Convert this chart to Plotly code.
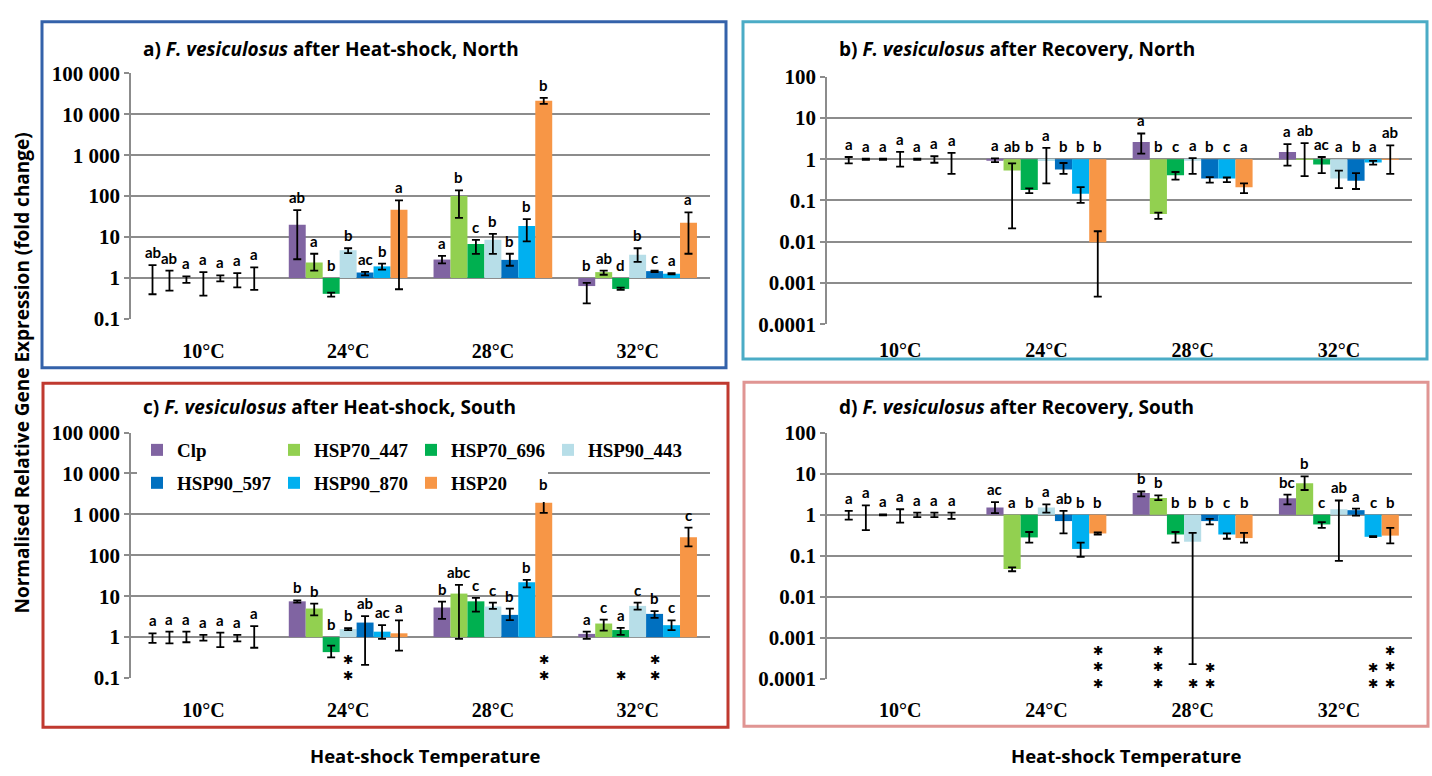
import numpy as np
import plotly.graph_objects as go

W, H = 1432, 776

temps = ["10°C", "24°C", "28°C", "32°C"]
genes = ["Clp", "HSP70_447", "HSP70_696", "HSP90_443", "HSP90_597", "HSP90_870", "HSP20"]
gene_colors = ["#8064A2", "#92D050", "#00B050", "#B7DEE8", "#0070C0", "#00B0F0", "#F79646"]

# ---------- a) Heat-shock, North (rows = genes, cols = temps) ----------
a_mean = [[1, 20.1, 2.82, 0.635], [1, 2.39, 100, 1.39], [1, 0.41, 6.75, 0.54], [1, 4.78, 8.55, 3.7],
          [1, 1.36, 2.77, 1.47], [1, 1.92, 18.7, 1.27], [1, 46.4, 21300, 22.4]]
a_hi = [[2.07, 45.6, 3.45, 0.76], [1.52, 3.91, 138, 1.52], [1.1, 0.44, 8.55, 0.58], [1.39, 5.33, 11.9, 5.33],
        [1.16, 1.41, 3.91, 1.52], [1.31, 2.23, 27.4, 1.31], [1.82, 78.7, 25100, 40.1]]
a_lo = [[0.40, 2.87, 2.27, 0.24], [0.49, 1.52, 29.5, 1.2], [0.76, 0.35, 3.9, 0.51], [0.37, 4.06, 3.9, 2.48],
        [0.83, 1.16, 1.99, 1.39], [0.59, 1.6, 7.8, 1.22], [0.51, 0.53, 18000, 3.91]]
a_letters = [["ab", "ab", "a", "b"], ["ab", "a", "b", "ab"], ["a", "b", "c", "d"], ["a", "b", "b", "b"],
             ["a", "ac", "b", "c"], ["a", "b", "b", "a"], ["a", "a", "b", "a"]]

# ---------- b) Recovery, North ----------
b_mean = [[1, 0.95, 2.6, 1.49], [1, 0.53, 0.047, 1.03], [1, 0.18, 0.41, 0.74], [1, 0.9, 0.95, 0.34],
          [1, 0.56, 0.34, 0.30], [1, 0.146, 0.34, 0.835], [1, 0.0098, 0.21, 1.02]]
b_hi = [[1.13, 1.05, 4.2, 2.33], [1.03, 0.79, 0.051, 2.46], [1.03, 0.197, 0.49, 1.13], [1.51, 1.88, 1.06, 0.53],
        [1.03, 0.81, 0.37, 0.46], [1.18, 0.21, 0.36, 0.91], [1.43, 0.018, 0.26, 2.17]]
b_lo = [[0.79, 0.85, 1.36, 0.70], [0.97, 0.021, 0.036, 0.39], [0.97, 0.15, 0.32, 0.46], [0.66, 0.26, 0.44, 0.2],
        [0.97, 0.44, 0.27, 0.19], [0.82, 0.088, 0.28, 0.74], [0.44, 0.00047, 0.15, 0.44]]
b_letters = [["a", "a", "a", "a"], ["a", "ab", "b", "ab"], ["a", "b", "c", "ac"], ["a", "a", "a", "a"],
             ["a", "b", "b", "b"], ["a", "b", "c", "a"], ["a", "b", "a", "ab"]]

# ---------- c) Heat-shock, South ----------
c_mean = [[1, 7.5, 5.3, 1.2], [1, 5.0, 11.6, 2.15], [1, 0.43, 7.5, 1.49], [1, 1.57, 5.6, 5.8],
          [1, 2.27, 3.5, 3.7], [1, 1.36, 22, 1.96], [1, 1.24, 1920, 275]]
c_hi = [[1.24, 7.9, 7.4, 1.36], [1.36, 6.6, 18.9, 2.67], [1.36, 0.62, 9.1, 1.69], [1.14, 1.66, 7.0, 7.0],
        [1.29, 3.25, 5.0, 4.3], [1.14, 1.96, 25, 2.57], [1.85, 2.57, 2700, 475]]
c_lo = [[0.72, 7.0, 2.8, 0.91], [0.70, 3.4, 0.91, 1.44], [0.75, 0.32, 4.2, 1.14], [0.82, 1.49, 4.9, 4.7],
        [0.57, 0.21, 2.6, 2.97], [0.79, 0.91, 16.4, 1.49], [0.55, 0.47, 1090, 165]]
c_letters = [["a", "b", "b", "a"], ["a", "b", "abc", "c"], ["a", "b", "c", "a"], ["a", "b", "c", "c"],
             ["a", "ab", "b", "b"], ["a", "ac", "b", "c"], ["a", "a", "b", "c"]]
c_stars = [[0, 0, 0, 0], [0, 0, 0, 0], [0, 0, 0, 1], [0, 2, 0, 0],
           [0, 0, 0, 2], [0, 0, 0, 0], [0, 0, 2, 0]]

# ---------- d) Recovery, South ----------
d_mean = [[1, 1.49, 3.36, 2.52], [1, 0.048, 2.56, 5.8], [1, 0.28, 0.33, 0.58], [1, 1.49, 0.22, 1.36],
          [1, 0.70, 0.70, 1.29], [1, 0.147, 0.33, 0.29], [1, 0.35, 0.27, 0.31]]
d_hi = [[1.24, 2.03, 3.68, 3.07], [1.69, 0.052, 2.96, 8.6], [1.02, 0.38, 0.38, 0.66], [1.36, 1.78, 0.36, 2.22],
        [1.13, 1.24, 0.79, 1.41], [1.13, 0.21, 0.35, 0.30], [1.13, 0.37, 0.36, 0.48]]
d_lo = [[0.76, 1.09, 2.8, 1.78], [0.42, 0.042, 2.26, 4.0], [0.97, 0.21, 0.21, 0.48], [0.64, 1.13, 0.00023, 0.075],
        [0.87, 0.35, 0.58, 0.95], [0.87, 0.094, 0.26, 0.285], [0.79, 0.33, 0.21, 0.20]]
d_letters = [["a", "ac", "b", "bc"], ["a", "a", "b", "b"], ["a", "b", "b", "c"], ["a", "a", "b", "ab"],
             ["a", "ab", "b", "a"], ["a", "b", "c", "c"], ["a", "b", "b", "b"]]
d_stars = [[0, 0, 0, 0], [0, 0, 3, 0], [0, 0, 0, 0], [0, 0, 1, 0],
           [0, 0, 2, 0], [0, 0, 0, 2], [0, 3, 0, 3]]

panel_titles = ["a) <i>F. vesiculosus</i> after Heat-shock, North",
                "b) <i>F. vesiculosus</i> after Recovery, North",
                "c) <i>F. vesiculosus</i> after Heat-shock, South",
                "d) <i>F. vesiculosus</i> after Recovery, South"]
y_title = "Normalised Relative Gene Expression (fold change)"
x_title = "Heat-shock Temperature"

# ---------- layout geometry (pixels) ----------
panels = [
    dict(mean=a_mean, hi=a_hi, lo=a_lo, let=a_letters, stars=None, rng=(-1, 5), stand=18,
         box=(131, 710, 63.3, 316.7), border=(42, 10, 726, 367), bcol="#3462AA", title_xy=(141, 38)),
    dict(mean=b_mean, hi=b_hi, lo=b_lo, let=b_letters, stars=None, rng=(-4, 2), stand=12,
         box=(827, 1412, 66.7, 322.3), border=(743, 10, 1427, 358), bcol="#4BACC6", title_xy=(837, 38)),
    dict(mean=c_mean, hi=c_hi, lo=c_lo, let=c_letters, stars=c_stars, rng=(-1, 5), star0=-7, stand=18,
         box=(131, 710, 434, 687.3), border=(43, 383, 728, 738), bcol="#C0392F", title_xy=(141, 408)),
    dict(mean=d_mean, hi=d_hi, lo=d_lo, let=d_letters, stars=d_stars, rng=(-4, 2), star0=-14, stand=17,
         box=(827, 1412, 434, 688.3), border=(744, 382, 1428, 737), bcol="#E09593", title_xy=(837, 408)),
]

BARGAP = 0.18
ngenes = len(genes)
bw = (1 - BARGAP) / ngenes
xcat = np.arange(len(temps))


def fmt_tick(v):
    if v >= 1:
        return f"{int(v):,}".replace(",", " ")
    return f"{v:g}" if v >= 0.001 else f"{v:.4f}"


fig = go.Figure()
shapes = []
annotations = []
grid_col = "#8C8C8C"

for p_i, P in enumerate(panels):
    k = "" if p_i == 0 else str(p_i + 1)
    xa, ya = "x" + k, "y" + k
    for g in range(ngenes):
        mean = np.array(P["mean"][g], dtype=float)
        hi = np.array(P["hi"][g], dtype=float)
        lo = np.array(P["lo"][g], dtype=float)
        show = p_i == 2
        fig.add_trace(go.Bar(
            x=xcat, y=mean - 1.0, base=1.0, name=genes[g],
            marker=dict(color=gene_colors[g], line=dict(width=0)),
            error_y=dict(type="data", symmetric=False, array=hi - mean, arrayminus=mean - lo,
                         color="black", thickness=1.8, width=4),
            xaxis=xa, yaxis=ya, showlegend=show,
            legend="legend" if g < 4 else "legend2",
        ))
        off = -(1 - BARGAP) / 2 + (g + 0.5) * bw
        for t in range(len(temps)):
            top = max(hi[t], 1.0)
            annotations.append(dict(x=t + off, y=np.log10(top), xref=xa, yref=ya, text=P["let"][g][t],
                                    showarrow=False, yanchor="bottom", yshift=2,
                                    font=dict(family="Lato", size=15, color="black", weight="bold")))
            if P["stars"] is not None and P["stars"][g][t] > 0:
                annotations.append(dict(x=t + off, y=0, xref=xa, yref=ya + " domain",
                                        text="<br>".join(["✱"] * P["stars"][g][t]),
                                        showarrow=False, yanchor="bottom", yshift=P["star0"],
                                        font=dict(family="DejaVu Sans", size=12.5, color="black")))
    x0, x1, yt, yb = P["box"]
    r0, r1 = P["rng"]
    tv = [10.0 ** e for e in range(r0, r1 + 1)]
    fig.layout["xaxis" + k] = dict(
        domain=[x0 / W, x1 / W], anchor=ya, range=[-0.5, len(temps) - 0.5],
        tickvals=list(xcat), ticktext=temps, showgrid=False, showline=False, zeroline=False,
        ticks="", ticklabelstandoff=P["stand"],
        tickfont=dict(family="Liberation Serif", size=20, color="black", weight="bold"))
    fig.layout["yaxis" + k] = dict(
        domain=[1 - yb / H, 1 - yt / H], anchor=xa, type="log", range=[r0, r1],
        tickvals=tv, ticktext=[fmt_tick(v) for v in tv],
        showgrid=True, gridcolor=grid_col, gridwidth=1.5,
        showline=True, linecolor=grid_col, linewidth=1.5,
        ticks="outside", ticklen=5, tickcolor=grid_col, tickwidth=1.5,
        tickfont=dict(family="Liberation Serif", size=21, color="black", weight="bold"))
    # category tick marks on the axis line at 1
    dec_px = (yb - yt) / (r1 - r0)
    for b in np.arange(0.5, len(temps), 1.0):
        shapes.append(dict(type="line", xref=xa, yref=ya, x0=b, x1=b, y0=0, y1=-6 / dec_px,
                           line=dict(color=grid_col, width=1.5)))
    # panel border
    bx0, by0, bx1, by1 = P["border"]
    shapes.append(dict(type="rect", xref="paper", yref="paper", x0=bx0 / W, x1=bx1 / W,
                       y0=1 - by1 / H, y1=1 - by0 / H, line=dict(color=P["bcol"], width=3)))
    tx, ty = P["title_xy"]
    annotations.append(dict(x=tx / W, y=1 - ty / H, xref="paper", yref="paper", text=panel_titles[p_i],
                            showarrow=False, xanchor="left", yanchor="middle",
                            font=dict(family="Open Sans", size=19, color="black", weight="bold")))

# white area behind the legend (hides the gridline like the original)
shapes.append(dict(type="rect", xref="paper", yref="paper", layer="between", x0=143 / W, x1=695 / W,
                   y0=1 - 490 / H, y1=1 - 442 / H, fillcolor="white", line=dict(width=0)))

annotations.append(dict(x=22 / W, y=1 - 373 / H, xref="paper", yref="paper", text=y_title, textangle=-90,
                        showarrow=False, xanchor="center", yanchor="middle",
                        font=dict(family="Open Sans", size=19, color="black", weight="bold")))
for cx in (425, 1126):
    annotations.append(dict(x=cx / W, y=1 - 767 / H, xref="paper", yref="paper", text=x_title,
                            showarrow=False, xanchor="center", yanchor="middle",
                            font=dict(family="Open Sans", size=18.5, color="black", weight="bold")))

leg_common = dict(orientation="h", xanchor="left", yanchor="middle", bgcolor="white",
                  borderwidth=0, entrywidth=92, traceorder="normal",
                  font=dict(family="Liberation Serif", size=19, color="black", weight="bold"))
fig.update_layout(
    width=W, height=H, margin=dict(l=0, r=0, t=0, b=0),
    paper_bgcolor="white", plot_bgcolor="white",
    barmode="group", bargap=BARGAP, bargroupgap=0,
    shapes=shapes, annotations=annotations,
    legend=dict(x=137 / W, y=1 - 452 / H, **leg_common),
    legend2=dict(x=137 / W, y=1 - 486 / H, **leg_common),
)

fig.write_html("out.html", config={"displayModeBar": False},
               post_script="document.body.style.margin='0';document.body.style.overflow='hidden';")
